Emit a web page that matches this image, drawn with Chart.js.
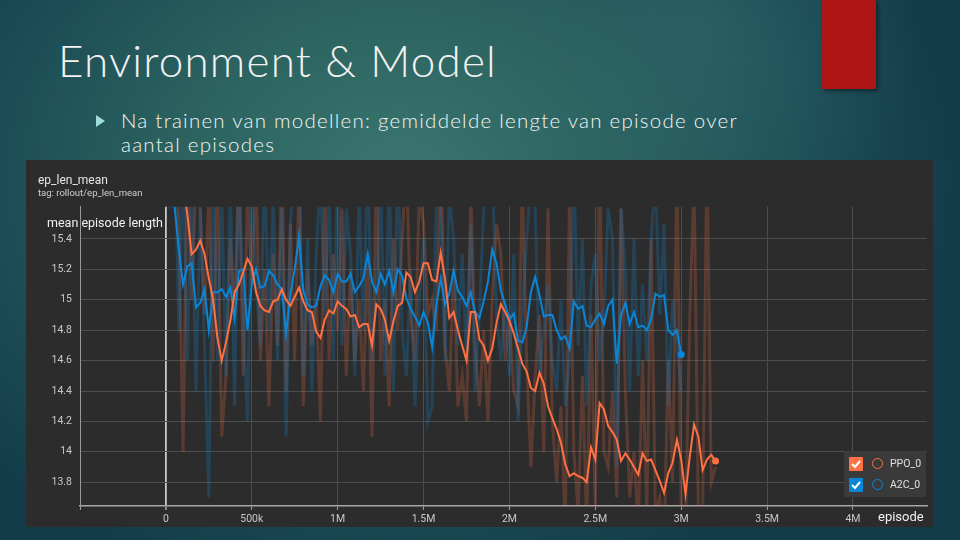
<!DOCTYPE html>
<html>
<head>
<meta charset="utf-8">
<script src="https://cdn.jsdelivr.net/npm/chart.js@4.4.1/dist/chart.umd.min.js"></script>
<style>
  html, body { margin: 0; padding: 0; }
  body {
    width: 960px; height: 540px; overflow: hidden; position: relative;
    background:
      radial-gradient(circle 220px at 700px 30px, rgba(48,104,108,0.55), rgba(48,104,108,0)),
      radial-gradient(ellipse 560px 430px at 400px 175px, #3a766f 0%, #2b625f 40%, #1b4b55 75%, #123c49 100%);
    font-family: Lato, "Open Sans", sans-serif;
  }
  #title {
    position: absolute; left: 58px; top: 34px;
    font-size: 44px; font-weight: 300; letter-spacing: 1.2px; color: #f2f2f2; white-space: nowrap;
  }
  #bullet {
    position: absolute; left: 96px; top: 115px;
    width: 0; height: 0;
    border-top: 6px solid transparent; border-bottom: 6px solid transparent;
    border-left: 9px solid #9fdcdc;
  }
  #bullettext {
    position: absolute; left: 121px; top: 108px; width: 680px;
    font-size: 20.5px; font-weight: 300; letter-spacing: 1.25px; line-height: 24px; color: #f4f4f4;
  }
  #redbar {
    position: absolute; left: 822px; top: 0; width: 54px; height: 89px;
    background: #ae1616; box-shadow: 2px 2px 4px rgba(0,0,0,0.45);
  }
  #panel {
    position: absolute; left: 26px; top: 160px; width: 907px; height: 367px;
    background: #2c2c2c; font-family: Roboto, "Noto Sans", sans-serif;
  }
  #panel canvas { position: absolute; left: 0; top: 0; }
  .lbl { position: absolute; white-space: nowrap; }
  #legend {
    position: absolute; left: 818px; top: 291px; width: 82px; height: 46px;
    background: #3a3a3a;
  }
  .row { position: absolute; left: 5px; height: 16px; }
  .box { position: absolute; left: 0; top: 0; width: 14px; height: 14px; border-radius: 1px; }
  .box svg { position: absolute; left: 1px; top: 1px; }
  .ring { position: absolute; left: 23px; top: 1px; width: 9px; height: 9px; border-radius: 50%; border: 1.6px solid; }
  .name { position: absolute; left: 41px; top: 0px; font-size: 10.5px; color: #e0e0e0; }
</style>
</head>
<body>
<div id="title">Environment &amp; Model</div>
<div id="bullet"></div>
<div id="bullettext">Na trainen van modellen: gemiddelde lengte van episode over<br>aantal episodes</div>
<div id="redbar"></div>

<div id="panel">
  <canvas id="chart" width="907" height="367"></canvas>
  <div class="lbl" style="left:12px; top:13px; font-size:12px; color:#e6e6e6;">ep_len_mean</div>
  <div class="lbl" style="left:12px; top:27px; font-size:9.5px; color:#cfcfcf;">tag: rollout/ep_len_mean</div>
  <div class="lbl" style="left:21px; top:55px; font-size:12.5px; color:#f0f0f0;">mean episode length</div>
  <div class="lbl" style="left:852px; top:349px; font-size:13px; color:#f0f0f0;">episode</div>
  <div id="legend">
    <div class="row" style="top:6px;">
      <div class="box" style="background:#ff7043;"><svg width="12" height="12"><path d="M2 6 L5 9 L10 3" stroke="#fff" stroke-width="2" fill="none"/></svg></div>
      <div class="ring" style="border-color:#ff7043;"></div>
      <div class="name">PPO_0</div>
    </div>
    <div class="row" style="top:27px;">
      <div class="box" style="background:#0a86d8;"><svg width="12" height="12"><path d="M2 6 L5 9 L10 3" stroke="#fff" stroke-width="2" fill="none"/></svg></div>
      <div class="ring" style="border-color:#0a86d8;"></div>
      <div class="name">A2C_0</div>
    </div>
  </div>
</div>

<script>
// logged every 25k steps
const STEP = 25000;

// PPO_0 smoothed curve
const ppoSmooth = [
  16.6, 16.4, 16.2, 16.0, 15.75, 15.56, 15.30, 15.33, 15.39, 15.30,
  15.14, 15.00, 14.75, 14.60, 14.72, 14.86, 15.05, 15.10, 15.18, 15.27,
  15.22, 15.05, 14.96, 14.93, 14.92, 14.99, 15.00, 15.07, 15.00, 14.96,
  15.02, 15.08, 14.99, 14.93, 14.92, 14.79, 14.75, 14.87, 14.93, 14.91,
  14.99, 14.96, 14.94, 14.89, 14.90, 14.82, 14.84, 14.84, 14.70, 14.97,
  14.94, 14.87, 14.73, 14.86, 14.96, 14.98, 15.18, 15.15, 15.05, 15.12,
  15.24, 15.24, 15.13, 15.12, 15.31, 15.14, 14.88, 14.92, 14.80, 14.70,
  14.60, 14.92, 14.92, 14.74, 14.70, 14.60, 14.68, 14.85, 14.97, 14.92,
  14.86, 14.78, 14.68, 14.58, 14.53, 14.42, 14.40, 14.52, 14.45, 14.30,
  14.22, 14.15, 14.06, 13.92, 13.84, 13.86, 13.84, 13.83, 13.80, 14.03,
  13.95, 14.32, 14.28, 14.17, 14.13, 14.08, 13.94, 13.99, 13.95, 13.90,
  13.85, 13.99, 13.94, 13.95, 13.88, 13.81, 13.73, 13.86, 13.93, 14.08,
  13.95, 13.72, 13.97, 14.18, 14.10, 13.88, 13.95, 13.98, 13.94
];

// PPO_0 raw values
const ppoRaw = [
  16.8, 15.9, 16.4, 15.5, 14.0, 15.9, 15.0, 15.8, 15.6, 14.9,
  15.7, 14.6, 15.8, 14.1, 14.5, 15.4, 14.9, 15.9, 14.5, 15.7,
  15.1, 15.8, 14.6, 15.2, 14.3, 15.3, 14.7, 15.9, 14.4, 15.5,
  14.6, 15.8, 14.3, 15.2, 14.7, 15.0, 14.2, 15.7, 14.6, 15.3,
  14.8, 15.6, 14.5, 15.2, 14.6, 15.0, 14.4, 15.3, 14.1, 15.9,
  14.6, 15.0, 14.3, 15.4, 14.8, 15.4, 15.9, 14.9, 14.6, 15.7,
  15.5, 14.9, 15.0, 14.8, 16.0, 14.7, 14.4, 15.2, 14.3, 14.5,
  14.2, 15.7, 14.7, 14.3, 14.8, 14.2, 15.0, 15.5, 15.3, 14.6,
  14.9, 14.4, 14.3, 15.8, 14.6, 13.9, 14.5, 14.9, 14.0, 15.6,
  14.2, 13.8, 14.3, 13.5, 15.7, 14.0, 13.6, 14.5, 13.5, 14.9,
  13.6, 16.0, 14.0, 13.9, 14.4, 13.7, 15.6, 14.4, 13.7, 14.0,
  13.5, 14.6, 13.6, 15.4, 13.6, 13.7, 13.4, 14.6, 13.8, 15.9,
  13.6, 13.5, 14.9, 15.8, 13.6, 13.6, 16.0, 13.8, 13.9
];

// A2C_0 smoothed curve
const a2cSmooth = [
  16.2, 15.95, 15.62, 15.34, 15.10, 15.22, 15.24, 14.95, 14.98, 15.07,
  14.80, 15.05, 15.05, 15.07, 15.02, 15.08, 14.88, 15.19, 15.20, 14.80,
  15.10, 15.20, 15.08, 15.09, 15.19, 15.16, 15.10, 15.07, 14.78, 15.04,
  15.20, 15.42, 15.06, 14.97, 14.95, 14.96, 15.09, 15.16, 15.13, 15.05,
  15.17, 15.12, 15.12, 15.17, 15.05, 15.09, 15.14, 15.30, 15.12, 15.05,
  15.17, 15.10, 15.19, 15.05, 15.20, 15.16, 15.01, 14.94, 14.89, 14.83,
  14.92, 14.85, 14.69, 14.97, 15.14, 14.97, 15.04, 15.19, 15.06, 15.02,
  14.96, 15.05, 14.92, 14.88, 14.99, 15.12, 15.33, 15.24, 15.06, 14.97,
  14.87, 14.91, 14.73, 14.72, 14.82, 15.05, 15.15, 15.03, 14.89, 14.90,
  14.90, 14.80, 14.74, 14.76, 14.68, 14.99, 14.94, 14.96, 14.83, 14.82,
  14.87, 14.91, 14.84, 14.96, 15.00, 14.58, 14.90, 14.98, 14.84, 14.92,
  14.82, 14.83, 14.80, 14.87, 15.04, 15.02, 15.03, 14.80, 14.77, 14.80,
  14.64
];

// A2C_0 raw values
const a2cRaw = [
  16.5, 15.6, 16.2, 14.8, 15.9, 14.6, 15.8, 14.4, 15.6, 14.7,
  13.7, 15.9, 14.6, 15.7, 14.5, 15.8, 14.3, 16.0, 14.9, 14.2,
  15.8, 15.1, 14.7, 15.9, 14.8, 15.7, 14.6, 15.6, 14.1, 15.5,
  15.9, 16.0, 14.5, 15.4, 14.4, 15.3, 15.8, 14.9, 15.7, 14.6,
  15.9, 14.7, 15.6, 15.3, 14.5, 15.7, 14.8, 16.0, 14.6, 15.0,
  15.8, 14.5, 15.9, 14.4, 16.0, 14.8, 14.5, 15.2, 14.3, 15.0,
  15.4, 14.2, 14.3, 15.7, 15.6, 14.6, 15.7, 15.4, 14.7, 15.3,
  14.6, 15.5, 14.4, 14.9, 15.6, 15.7, 15.9, 14.9, 14.6, 15.0,
  14.5, 15.3, 14.2, 14.9, 15.4, 15.8, 15.6, 14.5, 14.8, 15.1,
  14.6, 14.4, 15.0, 14.3, 14.6, 15.9, 14.7, 15.4, 14.3, 15.1,
  15.3, 14.6, 14.9, 15.6, 15.4, 13.9, 15.6, 15.2, 14.4, 15.4,
  14.5, 15.1, 14.6, 15.4, 15.8, 14.9, 15.5, 14.3, 15.0, 14.7,
  14.4
];

const xTicks = [-500000, 0, 500000, 1000000, 1500000, 2000000, 2500000, 3000000, 3500000, 4000000];
const yTicks = [13.8, 14, 14.2, 14.4, 14.6, 14.8, 15, 15.2, 15.4];

const PPO_COLOR = '#ff7043';
const A2C_COLOR = '#0a86d8';

const toPoints = (arr) => arr.map((v, i) => ({ x: i * STEP, y: v }));
const endDot = (arr) => (ctx) => ctx.dataIndex === arr.length - 1 ? 3.5 : 0;

const fmtStep = (v) => {
  if (v < 0) return '';
  if (v === 0) return '0';
  if (v < 1000000) return (v / 1000) + 'k';
  return (v / 1000000) + 'M';
};

const ctx = document.getElementById('chart').getContext('2d');
new Chart(ctx, {
  type: 'line',
  data: {
    datasets: [
      // first dataset is drawn on top
      { label: 'PPO_0', data: toPoints(ppoSmooth), borderColor: PPO_COLOR, backgroundColor: PPO_COLOR,
        borderWidth: 2, pointRadius: endDot(ppoSmooth), pointBorderWidth: 0 },
      { label: 'A2C_0', data: toPoints(a2cSmooth), borderColor: A2C_COLOR, backgroundColor: A2C_COLOR,
        borderWidth: 2, pointRadius: endDot(a2cSmooth), pointBorderWidth: 0 },
      { label: 'A2C_0 raw', data: toPoints(a2cRaw), borderColor: 'rgba(10,134,216,0.25)',
        borderWidth: 3, pointRadius: 0 },
      { label: 'PPO_0 raw', data: toPoints(ppoRaw), borderColor: 'rgba(255,112,67,0.22)',
        borderWidth: 3, pointRadius: 0 }
    ]
  },
  options: {
    responsive: false,
    animation: false,
    devicePixelRatio: 1,
    layout: { padding: { left: 0, right: 6, top: 46.7, bottom: 0 } },
    elements: { line: { tension: 0, borderJoinStyle: 'miter' } },
    plugins: { legend: { display: false }, tooltip: { enabled: false } },
    scales: {
      x: {
        type: 'linear',
        min: -500000,
        max: 4431000,
        afterFit: (scale) => { scale.height = 21; },
        afterBuildTicks: (scale) => { scale.ticks = xTicks.map(v => ({ value: v })); },
        ticks: {
          callback: (v) => fmtStep(v),
          color: '#c8c8c8',
          font: { family: 'Roboto', size: 10.5 },
          padding: 3,
          maxRotation: 0,
          autoSkip: false
        },
        grid: {
          color: (c) => c.tick && c.tick.value === 0 ? '#c9c9c9' : '#4d4d4d',
          lineWidth: (c) => c.tick && c.tick.value === 0 ? 1.8 : 1,
          tickColor: '#9a9a9a',
          tickLength: 4
        },
        border: { color: '#a8a8a8', width: 1.5 }
      },
      y: {
        type: 'linear',
        min: 13.644,
        max: 15.612,
        afterFit: (scale) => { scale.width = 54; },
        afterBuildTicks: (scale) => { scale.ticks = yTicks.map(v => ({ value: v })); },
        ticks: {
          callback: (v) => String(Math.round(v * 10) / 10),
          color: '#c8c8c8',
          font: { family: 'Roboto', size: 10.5 },
          padding: 8
        },
        grid: { color: '#4d4d4d', lineWidth: 1, drawTicks: false },
        border: { color: '#9a9a9a', width: 1 }
      }
    }
  }
});
</script>
</body>
</html>
